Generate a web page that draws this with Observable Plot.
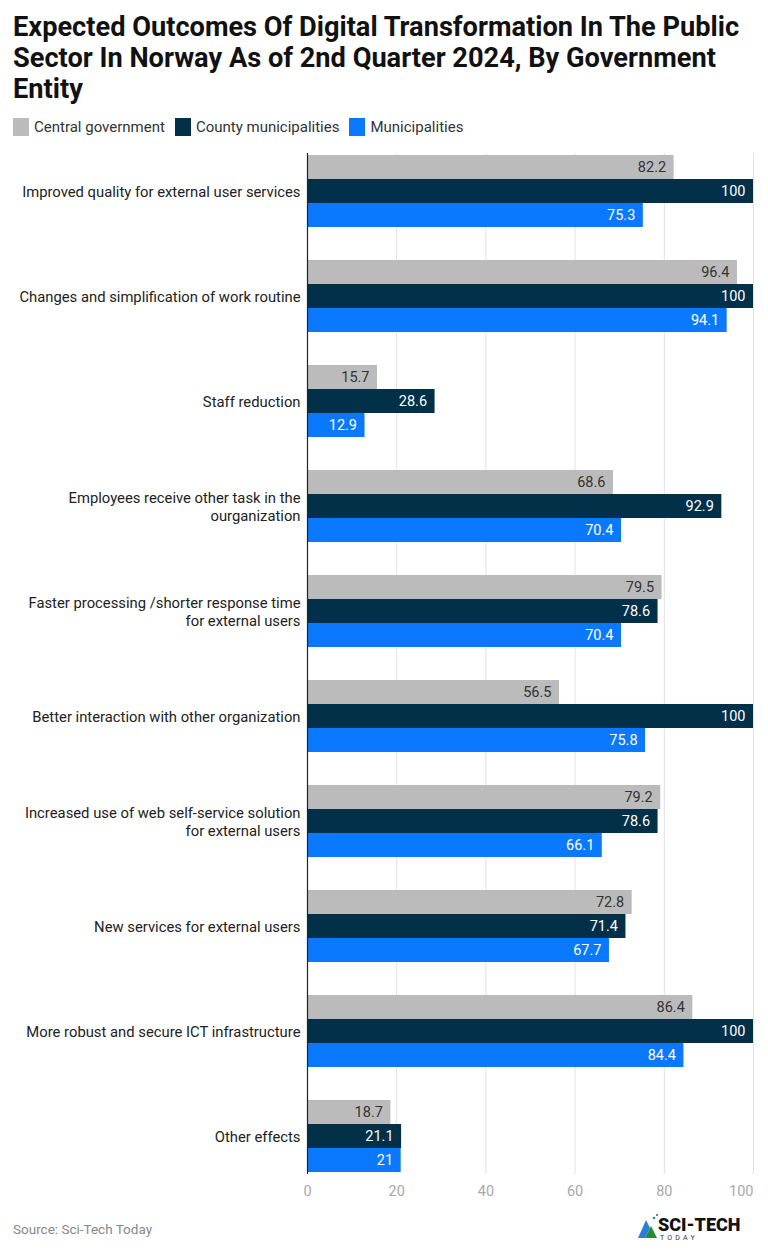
<!DOCTYPE html>
<html>
<head>
<meta charset="utf-8">
<script src="https://cdn.jsdelivr.net/npm/d3@7"></script>
<script src="https://cdn.jsdelivr.net/npm/@observablehq/plot@0.6"></script>
<style>
  html, body { margin: 0; padding: 0; background: #fff; }
  body { width: 768px; height: 1250px; position: relative; font-family: Roboto, "Noto Sans", sans-serif; overflow: hidden; }
  #title { position: absolute; left: 13px; top: 12px; width: 755px; font-weight: 700; font-size: 27.2px; line-height: 31px; color: #111; }
  #legend { position: absolute; left: 13px; top: 118px; display: flex; align-items: center; font-size: 15px; color: #333; }
  .item { display: flex; align-items: center; margin-right: 10px; }
  .sw { width: 16px; height: 18px; margin-right: 5px; }
  #chart { position: absolute; left: 0; top: 144px; width: 768px; }
  #chart svg { position: absolute; left: 0; top: 0; }
  #source { position: absolute; left: 13px; top: 1221px; font-size: 13.5px; color: #888; }
  #logo { position: absolute; left: 636px; top: 1212px; }
</style>
</head>
<body>
<div id="title">Expected Outcomes Of Digital Transformation In The Public Sector In Norway As of 2nd Quarter 2024, By Government Entity</div>
<div id="legend"></div>
<div id="chart"></div>
<div id="source">Source: Sci-Tech Today</div>
<div id="logo">
  <svg width="110" height="30" viewBox="0 0 110 30">
    <polygon points="2,26 10,8 14,16 9,26" fill="#2a7fd4"/>
    <polygon points="9,26 15,14 21,26" fill="#1f8f3a"/>
    <circle cx="18" cy="6" r="1.3" fill="#2a7fd4"/>
    <circle cx="21" cy="3" r="1.1" fill="#1f8f3a"/>
    <text x="22" y="19" font-family="Roboto" font-weight="900" font-size="18" fill="#111">SCI-TECH</text>
    <text x="24" y="28" font-family="Roboto" font-size="7" letter-spacing="3.2" fill="#333">TODAY</text>
  </svg>
</div>
<script>
const categories = [
  "Improved quality for external user services",
  "Changes and simplification of work routine",
  "Staff reduction",
  "Employees receive other task in the ourganization",
  "Faster processing /shorter response time for external users",
  "Better interaction with other organization",
  "Increased use of web self-service solution for external users",
  "New services for external users",
  "More robust and secure ICT infrastructure",
  "Other effects"
];
const categoryLabels = [
  "Improved quality for external user services",
  "Changes and simplification of work routine",
  "Staff reduction",
  "Employees receive other task in the\nourganization",
  "Faster processing /shorter response time\nfor external users",
  "Better interaction with other organization",
  "Increased use of web self-service solution\nfor external users",
  "New services for external users",
  "More robust and secure ICT infrastructure",
  "Other effects"
];
const series = ["Central government", "County municipalities", "Municipalities"];
const centralGovernment = [82.2, 96.4, 15.7, 68.6, 79.5, 56.5, 79.2, 72.8, 86.4, 18.7];
const countyMunicipalities = [100, 100, 28.6, 92.9, 78.6, 100, 78.6, 71.4, 100, 21.1];
const municipalities = [75.3, 94.1, 12.9, 70.4, 70.4, 75.8, 66.1, 67.7, 84.4, 21];
const xTicks = [0, 20, 40, 60, 80, 100];
const colors = ["#bbbbbb", "#023049", "#0a78ff"];

const seriesValues = [centralGovernment, countyMunicipalities, municipalities];
const data = categories.flatMap((c, i) =>
  series.map((s, j) => ({category: c, series: s, value: seriesValues[j][i]}))
);
const labelOf = new Map(categories.map((c, i) => [c, categoryLabels[i]]));

// legend
const legend = document.getElementById("legend");
series.forEach((s, i) => {
  const it = document.createElement("div");
  it.className = "item";
  it.innerHTML = `<span class="sw" style="background:${colors[i]}"></span><span>${s}</span>`;
  legend.appendChild(it);
});

const W = 768, H = 1062, ML = 307, MR = 15, MT = 9, MB = 32;
const base = {width: W, height: H, marginLeft: ML, marginRight: MR, marginTop: MT, marginBottom: MB,
  style: {fontFamily: "Roboto, sans-serif", background: "transparent"}};

const lastTick = xTicks[xTicks.length - 1];
const back = Plot.plot({
  ...base,
  x: {domain: [0, 100]},
  marks: [
    Plot.ruleX(xTicks.slice(1), {stroke: "#e2e2e2", strokeWidth: 1}),
    Plot.axisX({ticks: xTicks.slice(0, -1), tickSize: 0, tickPadding: 11, fontSize: 14.5, fill: "#a8a8a8", label: null}),
    Plot.axisX({ticks: [lastTick], tickSize: 0, tickPadding: 11, fontSize: 14.5, fill: "#a8a8a8", label: null, textAnchor: "end"})
  ]
});

const main = Plot.plot({
  ...base,
  x: {domain: [0, 100], axis: null},
  y: {domain: series, axis: null, padding: 0},
  fy: {domain: categories, paddingInner: 0.3, paddingOuter: 0, axis: null},
  color: {domain: series, range: colors},
  marks: [
    Plot.barX(data, {x: "value", y: "series", fy: "category", fill: "series"}),
    Plot.text(data, {filter: d => d.series === series[0], x: "value", y: "series", fy: "category",
      text: d => String(d.value), textAnchor: "end", dx: -8, fill: "#333", fontSize: 14.5}),
    Plot.text(data, {filter: d => d.series !== series[0], x: "value", y: "series", fy: "category",
      text: d => String(d.value), textAnchor: "end", dx: -8, fill: "#fff", fontSize: 14.5}),
    Plot.axisFy({anchor: "left", tickSize: 0, tickPadding: 7, fontSize: 14.8, fill: "#222", label: null,
      lineHeight: 1.2, tickFormat: d => labelOf.get(d)})
  ]
});

const front = Plot.plot({
  ...base,
  x: {domain: [0, 100], axis: null},
  marks: [Plot.ruleX([0], {stroke: "#222", strokeWidth: 1.2})]
});

const chart = document.getElementById("chart");
chart.style.height = H + "px";
chart.append(back, main, front);
</script>
</body>
</html>
